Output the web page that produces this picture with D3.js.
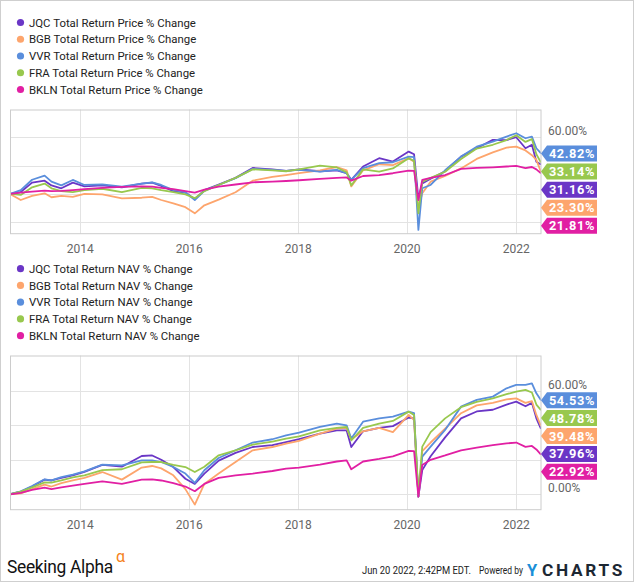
<!DOCTYPE html>
<html><head><meta charset="utf-8">
<script src="https://cdn.jsdelivr.net/npm/d3@7"></script>
<style>
html,body{margin:0;padding:0;background:#fff;}
svg{display:block;font-family:Roboto,"Noto Sans",sans-serif;}
</style></head>
<body><svg id="c" width="635" height="583"></svg>
<script>
// ---------- DATA ----------
const dates = ["2012-09-20","2012-12-01","2013-02-15","2013-05-10","2013-06-25","2013-08-30","2013-11-15",
"2014-02-01","2014-06-01","2014-10-10","2015-02-20","2015-05-01","2015-07-01","2015-09-20","2015-12-10",
"2016-02-11","2016-04-15","2016-07-20","2016-11-10","2017-03-05","2017-07-15","2017-10-15","2018-01-10",
"2018-05-30","2018-09-20","2018-11-25","2018-12-26","2019-03-15","2019-07-01","2019-10-01","2020-01-15",
"2020-02-20","2020-03-20","2020-04-15","2020-06-10","2020-09-15","2020-12-31","2021-04-15","2021-08-01",
"2021-11-01","2022-01-05","2022-03-08","2022-04-20","2022-05-20","2022-06-20"];

const seriesNames = ["JQC","BGB","VVR","FRA","BKLN"];
const seriesColors = ["#6a36c6","#fda56d","#5a8edc","#98c84e","#e11fa3"];

// Price total return % change
const priceJQC  = [0,2,12,14,9,6,12,8,9,7,11,12,8.5,3,1.5,-5.5,4,10,17,27.5,26,24.5,26,24,25,22,15,29,37.8,34.2,44.8,42,-5,11,16,24,39.5,48.3,57.2,57,60,48.3,52,34,31.16];
const priceBGB  = [0,-6.4,-2,0.7,-3.5,-2,-3,0,-0.4,-4.6,-4,-3,-6.4,-9.9,-14,-20.5,-12,-6,1.8,14,18,20,22,25,28.5,25,8,25,31.4,30.5,37.8,34,-15,0.7,13,19,27,37,44,49,50,46,41,36,23.3];
const priceVVR  = [0,4,15,19.4,13,9,14.8,9.5,10.2,7.8,11,12.3,9.5,4.2,1.8,-6.4,3.2,9.5,16.6,26.5,25.4,24.3,25.4,23.6,25.4,21.9,14.8,27.2,32.5,33.5,39.5,39,-38,6,9.5,25,39.5,50,55.4,60.7,64.2,58.9,60.7,48.3,42.82];
const priceFRA  = [0,-1,7,11,6,3,2,4,5.5,2,6.5,6,4,2,-0.5,-4.5,3,9.5,17,26,25,24,26,30,28,23,9,26,23.6,27,37.8,35,-20.5,13,17,23.5,37,48,52,57,62,55,58,42,33.14];
const priceBKLN = [0,1.5,2.5,3.5,3,3.2,4,5,6.5,7.5,8,7.8,6.5,5,3,1.5,4.5,7.8,10,12.3,13,13.7,14.5,15.9,17,17.5,14,19,20,21.9,24.7,24.5,-6.4,14.8,17,20,26.5,27.5,28.2,29,29.6,27.2,28.5,26,21.81];

// NAV total return % change
const navJQC  = [0,1.5,4.5,8.5,8,9.5,11,13,17,16,22.2,22.5,20,15.8,9,6,12,19.5,24,27.4,28.5,30.3,32,35.2,37,37,27.4,36.5,38.5,39.5,44.5,44,-1.4,14,22,33,44,48,49,52,53.7,51,53,44,37.96];
const navBGB  = [0,0.5,3,5.6,4.5,6.5,8.1,9.5,12.9,8.5,15.5,16.4,15,11,3,-6,6,12,18.7,25.5,27.4,29.4,31,35.2,38,38.5,31.9,36.5,38.5,36,46,43,-1.4,25,30,38,47,51.5,53,55,55.6,53,54,46,39.48];
const navVVR  = [0,1.7,4.8,8.7,8.1,10,11.4,13.3,17.2,16.8,19.7,19.7,18.7,15.8,12,6.6,13.9,21,25.5,30,31.9,34.2,35.7,39,41,40,32.3,42.1,44,45,47.9,47,-1.4,21.8,27.6,37.3,50.8,54.7,56.6,61.4,63.4,63.4,64.3,58.5,54.53];
const navFRA  = [0,1.5,4,6.9,6.8,8,9.8,11,14,14.5,18.5,18.7,18.7,17,15.8,12.9,16,22.6,25.5,28.8,30.5,32.3,33.5,37.1,38.5,39,31.3,38.5,41,42.5,47.9,46,0,27.6,36,44,50.5,53.5,55.6,58,59.5,60.5,59,52,48.78];
const navBKLN = [0,0.8,2.5,3.8,3,4,5,6,7.5,6,8.5,8.7,8,6.5,4.5,1.8,6,9.5,11,12,13.5,14.9,15.5,17.2,19,19.7,14.5,19,20.5,22,25.2,25,-1.4,17,20,22.5,25.5,27,28.5,29.5,30,27.5,28,26,22.92];

const priceSeries = [priceJQC, priceBGB, priceVVR, priceFRA, priceBKLN];
const navSeries = [navJQC, navBGB, navVVR, navFRA, navBKLN];

const xTickYears = [2014, 2016, 2018, 2020, 2022];
const priceTicks = [-30, 0, 30, 60];
const navTicks = [0, 20, 40, 60];
const priceLegendSuffix = "Total Return Price % Change";
const navLegendSuffix = "Total Return NAV % Change";

// ---------- DRAW ----------
const svg = d3.select("#c");
const parse = d3.timeParse("%Y-%m-%d");
const dts = dates.map(parse);

svg.append("rect").attr("x",0.5).attr("y",0.5).attr("width",633).attr("height",581)
  .attr("fill","#fff").attr("stroke","#cfcfcf");

const x = d3.scaleTime().domain([parse("2012-09-20"), parse("2022-06-20")]).range([10, 541]);

function legend(y0, suffix){
  const g = svg.append("g");
  seriesNames.forEach((n,i)=>{
    const cy = y0 + i*16.75;
    g.append("circle").attr("cx",20.5).attr("cy",cy).attr("r",3.6).attr("fill",seriesColors[i]);
    g.append("text").attr("x",29).attr("y",cy+4.2).attr("font-size",11.4).attr("fill","#222")
      .text(n+" "+suffix);
  });
}

function panel(opts){
  const {top,bottom,domain,ticks,series,labelSpacing,id} = opts;
  const y = d3.scaleLinear().domain(domain).range([bottom, top]);
  const g = svg.append("g");
  g.selectAll(".hg").data(ticks).enter().append("line")
    .attr("x1",10).attr("x2",541).attr("y1",d=>Math.round(y(d))+0.5).attr("y2",d=>Math.round(y(d))+0.5)
    .attr("stroke","#e3e3e3");
  g.selectAll(".vg").data(xTickYears).enter().append("line")
    .attr("x1",d=>Math.round(x(new Date(d,0,1)))+0.5).attr("x2",d=>Math.round(x(new Date(d,0,1)))+0.5)
    .attr("y1",top).attr("y2",bottom).attr("stroke","#e3e3e3");
  svg.append("clipPath").attr("id",id).append("rect").attr("x",10).attr("y",top).attr("width",531).attr("height",bottom-top);
  const line = d3.line().x((d,i)=>x(dts[i])).y(d=>y(d)).curve(d3.curveLinear);
  const lg = g.append("g").attr("clip-path",`url(#${id})`);
  series.forEach((s,i)=>{
    lg.append("path").attr("d",line(s)).attr("fill","none").attr("stroke",seriesColors[i])
      .attr("stroke-width",1.8).attr("stroke-linejoin","round");
  });
  g.append("rect").attr("x",10.5).attr("y",top+0.5).attr("width",530.5).attr("height",bottom-top-0.5)
    .attr("fill","none").attr("stroke","#cccccc");
  const xa = d3.axisBottom(x).tickValues(xTickYears.map(d=>new Date(d,0,1))).tickFormat(d3.timeFormat("%Y")).tickSize(0);
  const ax = g.append("g").attr("transform",`translate(0,${bottom+8})`).call(xa);
  ax.select(".domain").remove();
  ax.selectAll("text").attr("font-family","Roboto,sans-serif").attr("font-size",12).attr("fill","#666");
  const items = series.map((s,i)=>({i, v:s[s.length-1], y:y(s[s.length-1])}));
  items.sort((a,b)=>b.v-a.v);
  for(let k=1;k<items.length;k++){
    if(items[k].y < items[k-1].y + labelSpacing) items[k].y = items[k-1].y + labelSpacing;
  }
  const h = 16;
  items.forEach(it=>{
    const cy = it.y;
    const pts = [[541,cy],[547,cy-h/2],[597,cy-h/2],[597,cy+h/2],[547,cy+h/2]];
    g.append("polygon").attr("points",pts.map(p=>p.join(",")).join(" ")).attr("fill",seriesColors[it.i]);
    g.append("text").attr("x",572).attr("y",cy+4.6).attr("text-anchor","middle").attr("font-size",12.8)
      .attr("font-weight","bold").attr("letter-spacing","0.6").attr("fill","#fff")
      .text(it.v.toFixed(2)+"%");
  });
  ticks.forEach(t=>{
    const ty = y(t) - 6;
    const clash = items.some(it=>Math.abs(it.y - ty) < 12);
    if(!clash){
      g.append("text").attr("x",548).attr("y",y(t)-2).attr("font-size",12).attr("fill","#666")
        .text(t.toFixed(2)+"%");
    }
  });
}

legend(22.5, priceLegendSuffix);
panel({top:109.5, bottom:233.7, domain:[-42.04,89.3], ticks:priceTicks, series:priceSeries, labelSpacing:18.1, id:"cp1"});
legend(268.7, navLegendSuffix);
panel({top:355.5, bottom:509.7, domain:[-8.93,80.43], ticks:navTicks, series:navSeries, labelSpacing:17.9, id:"cp2"});

// footer: texts squeezed horizontally to a target width via transform
const f = svg.append("g");
function fitText(str, x0, y0, width, attrs){
  const t = f.append("text").attr("x",0).attr("y",0).text(str);
  Object.entries(attrs).forEach(([k,v])=>t.attr(k,v));
  const len = t.node().getComputedTextLength();
  t.attr("transform",`translate(${x0},${y0}) scale(${width/len},1)`);
  return t;
}
fitText("Seeking Alpha", 7, 573, 106, {"font-size":18, "fill":"#111", "letter-spacing":"-0.3"});
f.append("text").attr("x",116).attr("y",562).attr("font-size",16).attr("fill","#f58220").text("α");
fitText("Jun 20 2022, 2:42PM EDT.", 362, 574, 109, {"font-size":11, "fill":"#222"});
fitText("Powered by", 479, 574, 44, {"font-size":11, "fill":"#222"});
f.append("text").attr("x",527).attr("y",576).attr("font-size",16.5).attr("font-weight","bold").attr("fill","#1a8fd8").text("Y");
fitText("CHARTS", 542, 576, 83, {"font-size":16, "font-weight":"bold", "fill":"#1c2733", "letter-spacing":"2.5"});
</script></body></html>
